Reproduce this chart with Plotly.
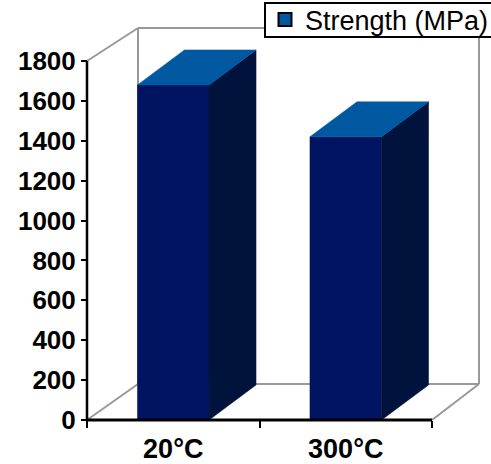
import plotly.graph_objects as go

# ---------------- data ----------------
categories = ["20°C", "300°C"]
strength = [1680, 1420]
series_name = "Strength (MPa)"
y_tick_values = [0, 200, 400, 600, 800, 1000, 1200, 1400, 1600, 1800]

# ---------------- style ----------------
W, H = 491, 464
FONT = "Liberation Sans, Arial, sans-serif"
FRONT = "#001462"
SIDE = "#00133C"
TOP = "#0059A0"
WALL = "#999999"

# pixel layout of the plot area
ML, MR, MT, MB = 80, 8, 25, 39
PX_PER_X = 172.5           # pixels per category unit
PX_PER_Y = 359 / 1800      # pixels per MPa
front_left_px = 7          # distance of front y axis from plot-area left edge
front_bottom_px = 5        # distance of x axis from plot-area bottom edge

plot_w = W - ML - MR
plot_h = H - MT - MB
x0 = -0.5 - front_left_px / PX_PER_X
x1 = x0 + plot_w / PX_PER_X
y0 = -front_bottom_px / PX_PER_Y
y1 = y0 + plot_h / PX_PER_Y

n = len(categories)
X_LEFT, X_RIGHT = -0.5, n - 0.5
Y_TOP = y_tick_values[-1]

# 3D depth offsets (data units)
wall_dx_left = 51 / PX_PER_X
wall_dx_right = 47 / PX_PER_X
wall_dy_floor = 36 / PX_PER_Y
wall_dy_top = 33 / PX_PER_Y
bar_dx = 47 / PX_PER_X
bar_dy = 35 / PX_PER_Y
bar_w = 0.415

fig = go.Figure()

# ---- bars: front, side, top faces ----
for i, v in enumerate(strength):
    l, r = i - bar_w / 2, i + bar_w / 2
    faces = [
        ([l, r, r, l, l], [0, 0, v, v, 0], FRONT),
        ([r, r + bar_dx, r + bar_dx, r, r], [0, bar_dy, v + bar_dy, v, 0], SIDE),
        ([l, l + bar_dx, r + bar_dx, r, l], [v, v + bar_dy, v + bar_dy, v, v], TOP),
    ]
    for xs, ys, c in faces:
        fig.add_trace(go.Scatter(
            x=xs, y=ys, fill="toself", fillcolor=c, mode="lines",
            line=dict(color=c, width=0.5), hoverinfo="skip", showlegend=False))

# legend entry
fig.add_trace(go.Scatter(
    x=[None], y=[None], mode="markers", name=series_name,
    marker=dict(symbol="square", size=13, color=TOP,
                line=dict(color="black", width=2))))

shapes = []
def seg(xa, ya, xb, yb, color, width, layer="below"):
    shapes.append(dict(type="line", xref="x", yref="y", x0=xa, y0=ya, x1=xb, y1=yb,
                       line=dict(color=color, width=width), layer=layer))

# back wall & floor edges (gray)
bl = X_LEFT + wall_dx_left
br = X_RIGHT + wall_dx_right
seg(bl, wall_dy_floor, bl, Y_TOP + wall_dy_top, WALL, 2)
seg(bl, Y_TOP + wall_dy_top, br, Y_TOP + wall_dy_top, WALL, 2)
seg(br, wall_dy_floor, br, Y_TOP + wall_dy_top, WALL, 2)
seg(bl, wall_dy_floor, br, wall_dy_floor, WALL, 2)
seg(X_LEFT, 0, bl, wall_dy_floor, WALL, 2)
seg(X_RIGHT, 0, br, wall_dy_floor, WALL, 2)
seg(X_LEFT, Y_TOP, bl, Y_TOP + wall_dy_top, WALL, 2)

# front axes (black)
seg(X_LEFT, 0, X_LEFT, Y_TOP, "black", 2.5, "above")
seg(X_LEFT, 0, X_RIGHT, 0, "black", 3, "above")

# legend frame (container px -> paper coords)
def px_to_paper_x(px):
    return (px - ML) / plot_w
def px_to_paper_y(py):
    return (H - MB - py) / plot_h

shapes.append(dict(type="rect", xref="paper", yref="paper",
                   x0=px_to_paper_x(265), x1=px_to_paper_x(W + 5),
                   y0=px_to_paper_y(37), y1=px_to_paper_y(3),
                   line=dict(color="black", width=2), fillcolor="white", layer="above"))

fig.update_layout(
    width=W, height=H,
    margin=dict(l=ML, r=MR, t=MT, b=MB, pad=0, autoexpand=False),
    paper_bgcolor="white", plot_bgcolor="white",
    shapes=shapes,
    showlegend=True,
    legend=dict(xref="container", yref="container", x=265 / W, y=1 - 20 / H,
                xanchor="left", yanchor="middle", bgcolor="rgba(0,0,0,0)",
                borderwidth=0,
                font=dict(family=FONT, size=27, color="black")),
    xaxis=dict(range=[x0, x1], anchor="free", position=front_bottom_px / plot_h,
               showgrid=False, zeroline=False, showline=False,
               tickmode="array", tickvals=list(range(n)), ticktext=categories,
               ticks="", ticklabelstandoff=10,
               tickfont=dict(family=FONT, size=27, color="black", weight="bold"),
               minor=dict(tickmode="array",
                          tickvals=[i - 0.5 for i in range(n + 1)],
                          ticks="outside", ticklen=7, tickwidth=2, tickcolor="black",
                          showgrid=False),
               automargin=False),
    yaxis=dict(range=[y0, y1], anchor="free", position=front_left_px / plot_w,
               showgrid=False, zeroline=False, showline=False,
               tickmode="array", tickvals=y_tick_values,
               ticks="outside", ticklen=6, tickwidth=2, tickcolor="black",
               tickfont=dict(family=FONT, size=26, color="black", weight="bold"),
               automargin=False),
    hovermode=False,
)

fig.write_html("out.html")
